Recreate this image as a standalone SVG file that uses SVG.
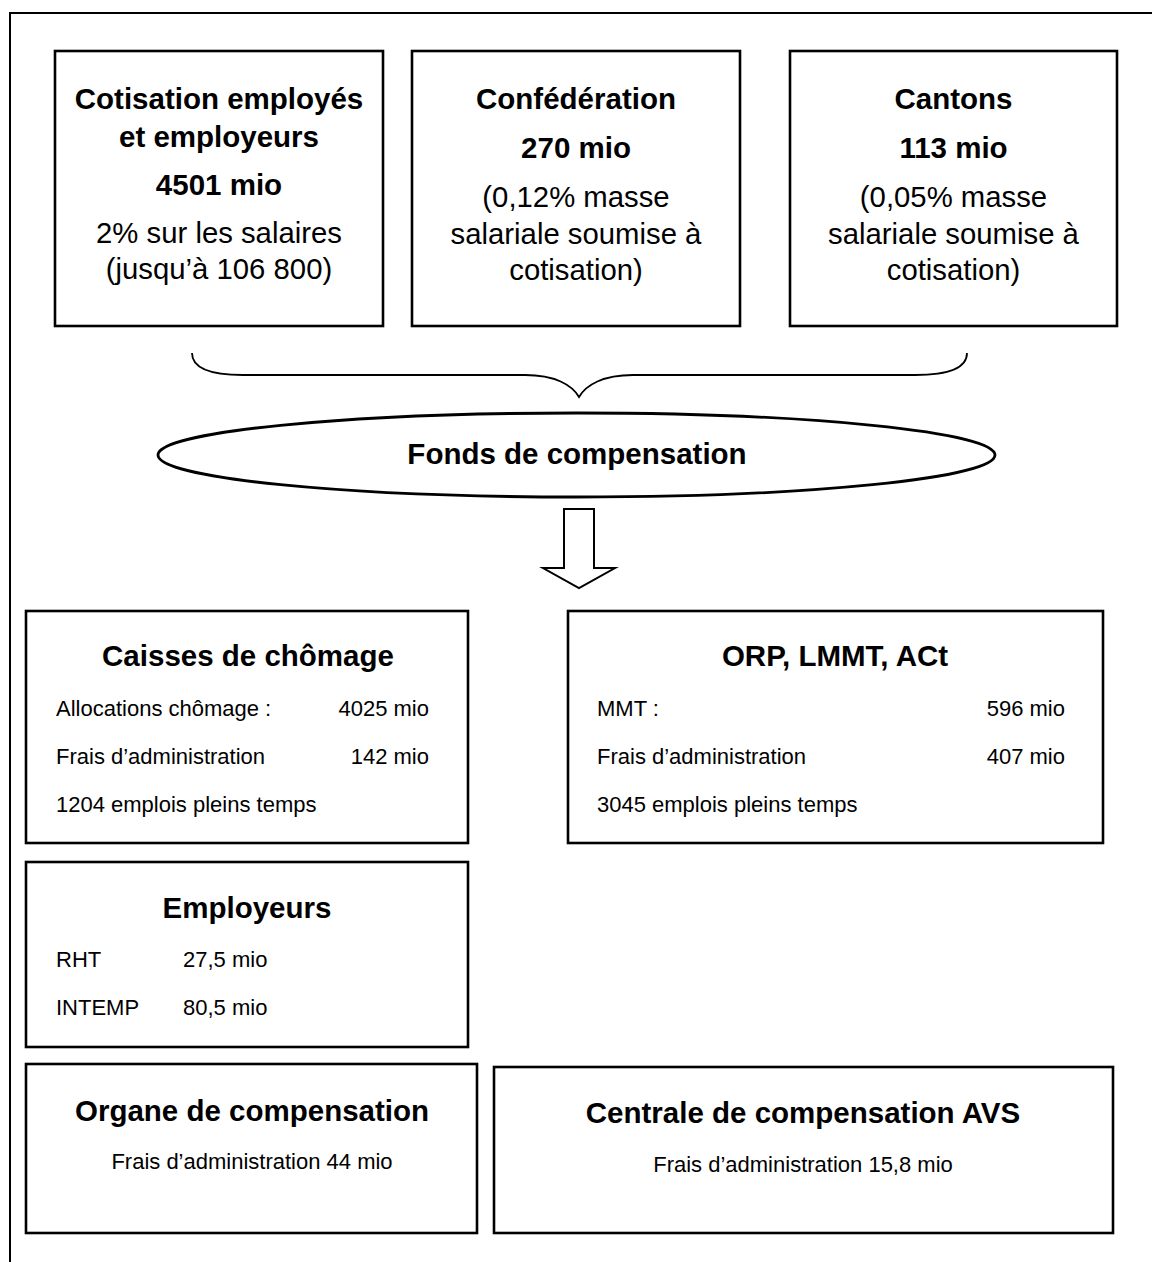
<svg xmlns="http://www.w3.org/2000/svg" width="1152" height="1262" viewBox="0 0 1152 1262">
<style>
text{font-family:"Liberation Sans",Arial,sans-serif;fill:#000}
.t{font-size:29.5px;font-weight:bold;text-anchor:middle}
.r{font-size:29.3px;text-anchor:middle}
.s{font-size:22px}
.sc{font-size:22px;text-anchor:middle}
.e{text-anchor:end}
.box{fill:#fff;stroke:#000;stroke-width:2.6}
</style>
<rect width="1152" height="1262" fill="#fff"/>
<path d="M10,1262 V13 H1152" fill="none" stroke="#000" stroke-width="2"/>
<g id="cotisation">
<rect class="box" x="55" y="51" width="328" height="275"/>
<text class="t" x="219" y="109">Cotisation employés</text>
<text class="t" x="219" y="147">et employeurs</text>
<text class="t" x="219" y="195">4501 mio</text>
<text class="r" x="219" y="243">2% sur les salaires</text>
<text class="r" x="219" y="279">(jusqu’à 106 800)</text>
</g>
<g id="confederation">
<rect class="box" x="412" y="51" width="328" height="275"/>
<text class="t" x="576" y="109">Confédération</text>
<text class="t" x="576" y="158">270 mio</text>
<text class="r" x="576" y="207">(0,12% masse</text>
<text class="r" x="576" y="244">salariale soumise à</text>
<text class="r" x="576" y="280">cotisation)</text>
</g>
<g id="cantons">
<rect class="box" x="790" y="51" width="327" height="275"/>
<text class="t" x="953.5" y="109">Cantons</text>
<text class="t" x="953.5" y="158">113 mio</text>
<text class="r" x="953.5" y="207">(0,05% masse</text>
<text class="r" x="953.5" y="244">salariale soumise à</text>
<text class="r" x="953.5" y="280">cotisation)</text>
</g>
<g id="connectors" fill="none" stroke="#000">
<path d="M192,353 C192,368 210,375 243,375 L525,375 C555,375 572,385 579,397 C586,385 603,375 633,375 L915,375 C948,375 967,368 967,353" stroke-width="1.8"/>
<path d="M564,509 H594 V568 H615 L579,588 L543,568 H564 Z" fill="#fff" stroke-width="2"/>
</g>
<g id="fonds">
<ellipse cx="576.5" cy="455" rx="418.5" ry="42" fill="#fff" stroke="#000" stroke-width="2.8"/>
<text class="t" x="577" y="464">Fonds de compensation</text>
</g>
<g id="caisses">
<rect class="box" x="26" y="611" width="442" height="232"/>
<text class="t" x="248" y="666">Caisses de chômage</text>
<text class="s" x="56" y="716">Allocations chômage :</text>
<text class="s e" x="429" y="716">4025 mio</text>
<text class="s" x="56" y="764">Frais d’administration</text>
<text class="s e" x="429" y="764">142 mio</text>
<text class="s" x="56" y="812">1204 emplois pleins temps</text>
</g>
<g id="orp">
<rect class="box" x="568" y="611" width="535" height="232"/>
<text class="t" x="835" y="666">ORP, LMMT, ACt</text>
<text class="s" x="597" y="716">MMT :</text>
<text class="s e" x="1065" y="716">596 mio</text>
<text class="s" x="597" y="764">Frais d’administration</text>
<text class="s e" x="1065" y="764">407 mio</text>
<text class="s" x="597" y="812">3045 emplois pleins temps</text>
</g>
<g id="employeurs">
<rect class="box" x="26" y="862" width="442" height="185"/>
<text class="t" x="247" y="918">Employeurs</text>
<text class="s" x="56" y="967">RHT</text>
<text class="s" x="183" y="967">27,5 mio</text>
<text class="s" x="56" y="1015">INTEMP</text>
<text class="s" x="183" y="1015">80,5 mio</text>
</g>
<g id="organe">
<rect class="box" x="26" y="1064" width="451" height="169"/>
<text class="t" x="252" y="1121">Organe de compensation</text>
<text class="sc" x="252" y="1169">Frais d’administration 44 mio</text>
</g>
<g id="centrale">
<rect class="box" x="494" y="1067" width="619" height="166"/>
<text class="t" x="803" y="1123">Centrale de compensation AVS</text>
<text class="sc" x="803" y="1172">Frais d’administration 15,8 mio</text>
</g>
</svg>
